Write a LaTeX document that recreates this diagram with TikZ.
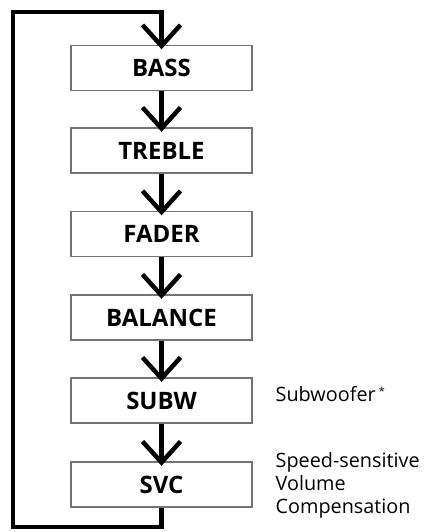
\documentclass[tikz,border=0pt]{standalone}
\usepackage{fontspec}
\setmainfont{Open Sans}
\begin{document}
\begin{tikzpicture}[x=1pt,y=-1pt,
  stepbox/.style={draw=black!55,line width=1.1pt,minimum width=181pt,minimum height=45pt,inner sep=0pt,font=\fontsize{24}{28}\selectfont\bfseries},
  flow/.style={line width=4.5pt,line cap=butt,line join=miter},
  note/.style={anchor=base west,inner sep=0pt,font=\fontsize{19.8}{23}\selectfont}]
\useasboundingbox (0,0) rectangle (425,532);
\node[stepbox] (bass) at (161.5,68) {BASS};
\node[stepbox] (treble) at (161.5,150.5) {TREBLE};
\node[stepbox] (fader) at (161.5,234) {FADER};
\node[stepbox] (balance) at (161.5,317.5) {BALANCE};
\node[stepbox] (subw) at (161.5,400.5) {SUBW};
\node[stepbox] (svc) at (161.5,484.5) {SVC};
\node[note] (subtxt) at (275.5,401) {Subwoofer\,\raisebox{0.5ex}{\fontsize{11}{11}\selectfont*}};
\node[note] (svc1) at (275.5,467) {Speed-sensitive};
\node[note] (svc2) at (275.5,490) {Volume};
\node[note] (svc3) at (275.5,513) {Compensation};
\coordinate (br) at (161.5,527);
\coordinate (bl) at (13,527);
\coordinate (tl) at (13,12);
\coordinate (tr) at (161.5,12);
\draw[flow] (svc.south) -- (br) -- (bl) -- (tl) -- (tr) -- ([yshift=-1pt]bass.north);
\foreach \a/\b in {bass/treble,treble/fader,fader/balance,balance/subw,subw/svc}{
  \draw[flow] (\a.south) -- ([yshift=-1pt]\b.north);
}
\foreach \b in {bass,treble,fader,balance,subw,svc}{
  \draw[flow] ([xshift=-19pt,yshift=20pt]\b.north) -- ([yshift=-1pt]\b.north) -- ([xshift=19pt,yshift=20pt]\b.north);
}
\end{tikzpicture}
\end{document}
